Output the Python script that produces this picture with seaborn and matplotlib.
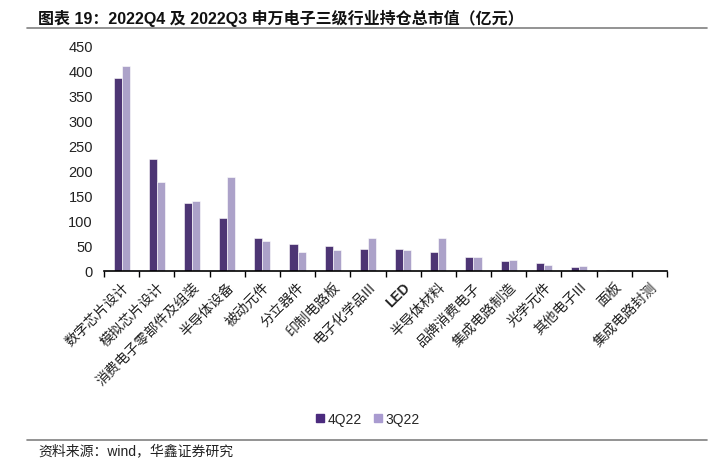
import pandas as pd
import matplotlib
matplotlib.use("Agg")
import matplotlib.pyplot as plt
import seaborn as sns
from matplotlib.lines import Line2D

# =========================
# Data (亿元)
# =========================
categories = [
    "数字芯片设计", "模拟芯片设计", "消费电子零部件及组装", "半导体设备",
    "被动元件", "分立器件", "印制电路板", "电子化学品III", "LED",
    "半导体材料", "品牌消费电子", "集成电路制造", "光学元件",
    "其他电子III", "面板", "集成电路封测",
]
q4_22 = [386, 225, 137, 106, 66, 55, 50, 45, 43.5, 37.5, 27.5, 19.5, 16, 7.4, 2, 0.5]
q3_22 = [410, 178, 140, 188, 60, 37.5, 42, 67, 41.5, 66, 27.5, 21.4, 12, 9.4, 3, 0.3]
series_names = ["4Q22", "3Q22"]
yticks = [0, 50, 100, 150, 200, 250, 300, 350, 400, 450]

df = pd.DataFrame({
    "行业": categories * 2,
    "季度": [series_names[0]] * len(categories) + [series_names[1]] * len(categories),
    "市值": q4_22 + q3_22,
})

sns.set_theme(style="white")
plt.rcParams["font.family"] = ["Liberation Sans", "Noto Sans CJK SC", "DejaVu Sans"]

palette = {"4Q22": "#4B2A7E", "3Q22": "#A99BD0"}

fig = plt.figure(figsize=(7.24, 4.77), dpi=100)
ax = fig.add_axes([104 / 724, 1 - 272 / 477, (667 - 104) / 724, (272 - 47) / 477])

sns.barplot(
    data=df, x="行业", y="市值", hue="季度", palette=palette,
    width=0.46, gap=0, edgecolor="white", linewidth=0.4,
    legend=False, ax=ax,
)

ax.set_ylim(0, 450)
ax.set_xlim(-0.5, len(categories) - 0.5)
ax.set_yticks(yticks)
ax.set_yticklabels([str(v) for v in yticks], fontsize=10.5, color="#222222")
ax.set_xlabel("")
ax.set_ylabel("")

# x 轴：标签在中心，刻度线在分界处
ax.set_xticks(range(len(categories)))
ax.set_xticklabels(categories, rotation=45, ha="right", rotation_mode="anchor",
                   fontsize=10, color="#222222")
ax.set_xticks([i - 0.5 for i in range(len(categories) + 1)], minor=True)
ax.tick_params(axis="x", which="major", length=0, pad=6)
ax.tick_params(axis="x", which="minor", length=4, width=1, color="black", direction="out", bottom=True)
ax.tick_params(axis="y", length=0, pad=8)
for lbl in ax.get_xticklabels():
    if lbl.get_text() == "LED":
        lbl.set_fontweight("bold")

for side in ["top", "right", "left"]:
    ax.spines[side].set_visible(False)
ax.spines["bottom"].set_color("black")
ax.spines["bottom"].set_linewidth(1.2)
ax.grid(False)

# 图例
handles = [Line2D([0], [0], marker="s", linestyle="", markersize=6,
                  markerfacecolor=palette[n], markeredgecolor=palette[n]) for n in series_names]
fig.legend(handles, series_names, loc="center", bbox_to_anchor=(367 / 724, 1 - 420 / 477),
           ncol=2, frameon=False, fontsize=10, handletextpad=0.1, columnspacing=0.8,
           handlelength=0.8)

# 标题与来源
fig.text(38 / 724, 1 - 18 / 477, "图表 19：2022Q4 及 2022Q3 申万电子三级行业持仓总市值（亿元）",
         fontsize=11.5, fontweight="bold", va="center", ha="left", color="#111111")
fig.add_artist(Line2D([27 / 724, 707 / 724], [1 - 29 / 477, 1 - 29 / 477],
                      color="#808080", linewidth=1.2, transform=fig.transFigure))
fig.add_artist(Line2D([27 / 724, 707 / 724], [1 - 441 / 477, 1 - 441 / 477],
                      color="#808080", linewidth=1.2, transform=fig.transFigure))
fig.text(38 / 724, 1 - 451 / 477, "资料来源：wind，华鑫证券研究",
         fontsize=10, va="center", ha="left", color="#222222")

plt.savefig("out.png", dpi=100)
